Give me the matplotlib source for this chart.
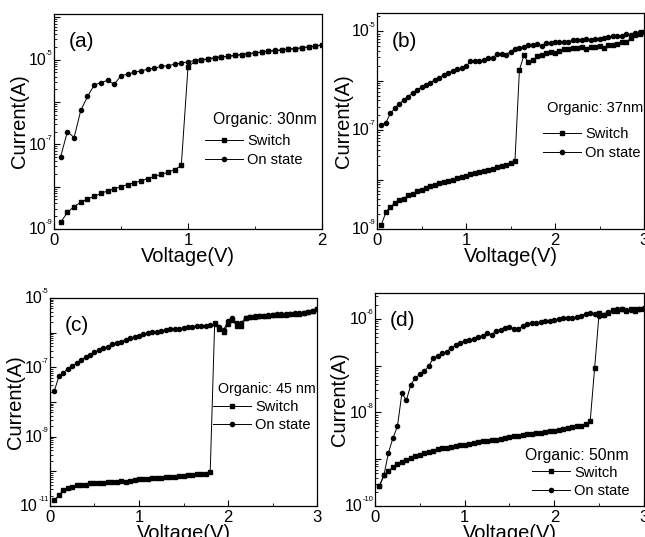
import numpy as np
import matplotlib.pyplot as plt
from matplotlib.ticker import FixedLocator, LogLocator, NullFormatter, MultipleLocator
from matplotlib.transforms import ScaledTranslation

plt.rcParams['font.family'] = ['Liberation Sans', 'DejaVu Sans']

# voltage sweeps (0.05 V steps)
volt_a = np.round(np.arange(0.05, 2.001, 0.05), 2)
volt_bcd = np.round(np.arange(0.05, 3.001, 0.05), 2)

# log10 of current (A)
a_switch = [-8.84, -8.61, -8.47, -8.37, -8.29, -8.23, -8.16, -8.10, -8.05, -8.00,
            -7.95, -7.91, -7.86, -7.81, -7.76, -7.71, -7.66, -7.60, -7.50, -5.18,
            -5.04, -5.01, -4.99, -4.96, -4.94, -4.92, -4.90, -4.88, -4.86, -4.84,
            -4.82, -4.80, -4.79, -4.77, -4.75, -4.74, -4.72, -4.70, -4.68, -4.65]
a_on = [-7.29, -6.70, -6.84, -6.20, -5.87, -5.60, -5.54, -5.49, -5.58, -5.38,
        -5.34, -5.30, -5.26, -5.23, -5.20, -5.16, -5.14, -5.11, -5.08, -5.05,
        -5.02, -5.00, -4.98, -4.95, -4.93, -4.92, -4.90, -4.88, -4.86, -4.84,
        -4.82, -4.80, -4.78, -4.77, -4.75, -4.74, -4.72, -4.70, -4.68, -4.65]

b_switch = [-8.91, -8.66, -8.55, -8.48, -8.41, -8.39, -8.31, -8.29, -8.23, -8.21,
            -8.17, -8.13, -8.11, -8.07, -8.05, -8.02, -8.00, -7.96, -7.95, -7.92,
            -7.89, -7.87, -7.85, -7.83, -7.80, -7.78, -7.75, -7.73, -7.70, -7.66,
            -7.62, -5.78, -5.49, -5.63, -5.58, -5.51, -5.47, -5.44, -5.41, -5.43,
            -5.39, -5.36, -5.36, -5.34, -5.34, -5.32, -5.35, -5.31, -5.32, -5.29,
            -5.33, -5.27, -5.27, -5.25, -5.22, -5.22, -5.14, -5.07, -5.05, -5.02]
b_on = [-6.90, -6.85, -6.66, -6.56, -6.47, -6.39, -6.32, -6.25, -6.19, -6.13,
        -6.08, -6.04, -5.98, -5.94, -5.88, -5.85, -5.80, -5.77, -5.75, -5.71,
        -5.61, -5.61, -5.61, -5.58, -5.54, -5.54, -5.46, -5.46, -5.47, -5.41,
        -5.36, -5.34, -5.31, -5.28, -5.28, -5.26, -5.29, -5.24, -5.24, -5.22,
        -5.22, -5.21, -5.22, -5.18, -5.18, -5.17, -5.16, -5.18, -5.16, -5.16,
        -5.14, -5.12, -5.10, -5.09, -5.09, -5.06, -5.07, -5.03, -5.02, -5.01]

c_switch = [-10.83, -10.69, -10.54, -10.48, -10.45, -10.40, -10.38, -10.39, -10.35, -10.35,
            -10.33, -10.33, -10.31, -10.30, -10.31, -10.29, -10.30, -10.27, -10.26, -10.23,
            -10.22, -10.22, -10.20, -10.18, -10.18, -10.16, -10.15, -10.16, -10.13, -10.13,
            -10.11, -10.10, -10.09, -10.09, -10.07, -10.02, -5.73, -5.88, -5.97, -5.76,
            -5.64, -5.80, -5.80, -5.59, -5.55, -5.54, -5.53, -5.51, -5.51, -5.50,
            -5.50, -5.48, -5.48, -5.47, -5.46, -5.46, -5.43, -5.40, -5.37, -5.33]
c_on = [-7.67, -7.26, -7.16, -7.04, -6.97, -6.88, -6.78, -6.71, -6.64, -6.56,
        -6.50, -6.45, -6.40, -6.33, -6.29, -6.26, -6.20, -6.16, -6.12, -6.09,
        -6.05, -6.02, -5.99, -5.97, -5.95, -5.92, -5.90, -5.88, -5.88, -5.86,
        -5.85, -5.83, -5.82, -5.82, -5.81, -5.78, -5.75, -5.83, -5.92, -5.67,
        -5.57, -5.73, -5.71, -5.57, -5.54, -5.52, -5.52, -5.51, -5.49, -5.49,
        -5.47, -5.47, -5.46, -5.46, -5.44, -5.44, -5.42, -5.40, -5.36, -5.33]

d_switch = [-9.57, -9.34, -9.26, -9.16, -9.11, -9.05, -9.01, -8.98, -8.94, -8.91,
            -8.87, -8.85, -8.82, -8.79, -8.77, -8.75, -8.73, -8.71, -8.70, -8.69,
            -8.67, -8.65, -8.64, -8.62, -8.61, -8.59, -8.58, -8.56, -8.55, -8.53,
            -8.51, -8.50, -8.49, -8.47, -8.46, -8.44, -8.43, -8.41, -8.40, -8.39,
            -8.37, -8.36, -8.34, -8.31, -8.30, -8.28, -8.25, -8.19, -7.05, -5.87,
            -5.91, -5.87, -5.81, -5.84, -5.79, -5.84, -5.80, -5.84, -5.80, -5.79]
d_on = [-9.57, -9.34, -8.86, -8.55, -8.30, -7.59, -7.74, -7.41, -7.26, -7.19,
        -7.12, -7.01, -6.84, -6.79, -6.74, -6.70, -6.62, -6.57, -6.51, -6.48,
        -6.46, -6.43, -6.39, -6.36, -6.30, -6.34, -6.26, -6.23, -6.19, -6.17,
        -6.21, -6.21, -6.16, -6.12, -6.10, -6.09, -6.07, -6.05, -6.04, -6.03,
        -6.01, -5.99, -5.99, -5.98, -5.96, -5.93, -5.89, -5.87, -5.89, -5.94,
        -5.91, -5.86, -5.84, -5.80, -5.80, -5.81, -5.81, -5.80, -5.79, -5.76]

panels = [
    # rect, volts, switch, on, tag, thickness, ylim exponents, labelled decades, xmax,
    # legend title (x, y, size), legend entries anchor, ylabel x
    ([0.0837, 0.5736, 0.4155, 0.4004], volt_a, a_switch, a_on, '(a)', '30nm',
     (-9, -3.92), [-9, -7, -5], 2, (0.593, 0.51, 11.3), (0.563, 0.44), -0.095),
    ([0.5845, 0.5736, 0.4140, 0.4022], volt_bcd, b_switch, b_on, '(b)', '37nm',
     (-9, -4.63), [-9, -7, -5], 3, (0.637, 0.562, 10.5), (0.622, 0.47), -0.09),
    ([0.0775, 0.0577, 0.4140, 0.3873], volt_bcd, c_switch, c_on, '(c)', '45 nm',
     (-11, -5), [-11, -9, -7, -5], 3, (0.629, 0.562, 10.3), (0.61, 0.51), -0.095),
    ([0.5814, 0.0577, 0.4170, 0.3966], volt_bcd, d_switch, d_on, '(d)', '50nm',
     (-10, -5.45), [-10, -8, -6], 3, (0.558, 0.235, 11.3), (0.584, 0.19), -0.095),
]

EXP_SIZE = 5.5

fig = plt.figure(figsize=(6.45, 5.37), dpi=100)

for rect, v, sw, on, tag, thick, ylim, labelled, xmax, ttl, anchor, ylab_x in panels:
    ax = fig.add_axes(rect)
    ax.plot(v, 10 ** np.array(sw), '-s', color='black', lw=0.7, ms=2.8, label='Switch')
    ax.plot(v, 10 ** np.array(on), '-o', color='black', lw=0.7, ms=3.0, label='On state')
    ax.set_yscale('log')
    ax.set_ylim(10 ** ylim[0], 10 ** ylim[1])
    ax.set_xlim(0, xmax)

    decades = list(range(ylim[0], int(np.floor(ylim[1])) + 1))
    ax.yaxis.set_major_locator(FixedLocator([10.0 ** d for d in decades]))
    ax.yaxis.set_major_formatter(NullFormatter())
    ax.yaxis.set_minor_locator(LogLocator(base=10, subs=np.arange(2, 10), numticks=20))
    ax.yaxis.set_minor_formatter(NullFormatter())
    ax.xaxis.set_major_locator(MultipleLocator(1))
    ax.xaxis.set_minor_locator(MultipleLocator(0.5))

    # "10" with a tiny exponent, like the original tick labels
    base = ax.get_yaxis_transform()
    for d in labelled:
        exp = str(d)
        w_exp = (0.333 + 0.556 * (len(exp) - 1)) * EXP_SIZE
        right = -0.8
        ax.text(0, 10.0 ** d, exp, fontsize=EXP_SIZE, ha='right', va='center',
                transform=base + ScaledTranslation(right / 72, 4.5 / 72, fig.dpi_scale_trans))
        ax.text(0, 10.0 ** d, '10', fontsize=11.5, ha='right', va='center',
                transform=base + ScaledTranslation((right - w_exp) / 72, -0.5 / 72,
                                                   fig.dpi_scale_trans))

    ax.tick_params(which='both', direction='in', labelsize=12)
    ax.tick_params(axis='x', pad=3)
    ax.tick_params(which='major', length=4, width=0.8)
    ax.tick_params(which='minor', length=2, width=0.6)
    for s in ax.spines.values():
        s.set_linewidth(0.9)

    ax.set_xlabel('Voltage(V)', fontsize=14.5, labelpad=-1)
    ax.set_ylabel('Current(A)', fontsize=14.5)
    ax.yaxis.set_label_coords(ylab_x, 0.5)
    ax.text(0.055, 0.87, tag, transform=ax.transAxes, fontsize=15, va='center')

    ax.text(ttl[0], ttl[1], 'Organic: ' + thick, transform=ax.transAxes,
            fontsize=ttl[2], va='center', ha='left')
    ax.legend(loc='upper left', bbox_to_anchor=anchor,
              frameon=False, fontsize=10.5, numpoints=1,
              handlelength=2.6, handletextpad=0.3, labelspacing=0.3,
              borderpad=0, borderaxespad=0)

fig.savefig('out.png', dpi=100)
